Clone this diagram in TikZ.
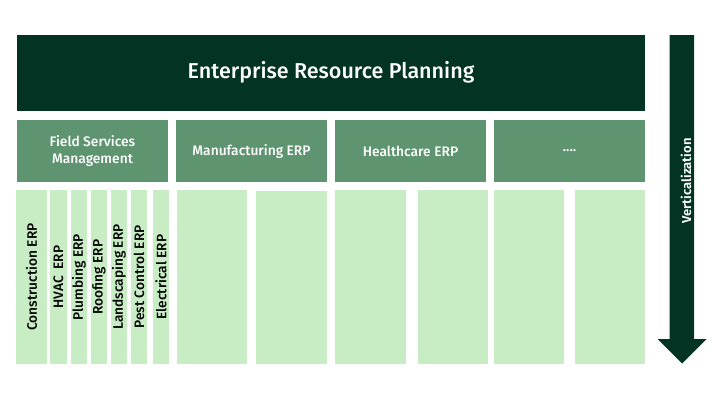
\documentclass[tikz,border=0pt]{standalone}
\usepackage{fontspec}
\setmainfont{Fira Sans}[UprightFont=* Medium, BoldFont=* SemiBold]
\usepackage{tikz}
\definecolor{erpdark}{RGB}{3,52,35}
\definecolor{erpmid}{RGB}{94,148,112}
\definecolor{erplight}{RGB}{200,236,196}
\tikzset{
    every node/.style={rectangle, inner sep=0pt, outer sep=0pt, align=center},
    base/.style={fill=erpdark, text=white, minimum width=628pt,
        minimum height=75.5pt, font=\fontsize{21.5}{24}\selectfont},
    branch/.style={fill=erpmid, text=white, minimum height=62pt,
        minimum width=#1, font=\fontsize{13.8}{17}\selectfont},
    leaf/.style={fill=erplight, rotate=90, minimum width=173.5pt,
        minimum height=#1, font=\fontsize{13.7}{16}\selectfont}
}

\begin{document}
\begin{tikzpicture}[x=1pt, y=-1pt]
	\useasboundingbox (0, 0) rectangle (720, 405);
	\node (erp) [base] at (331, 72.75) {Enterprise Resource Planning};
	
	\node (fsm) [branch=151pt] at (92.5, 151) {Field Services\\Management};
	\node (mfg) [branch=151pt] at (251.5, 151) {Manufacturing ERP};
	\node (hc) [branch=151pt] at (410.5, 151) {Healthcare ERP};
	\node (more) [branch=151pt] at (569.5, 151) {....};
	
	\node (f1) [leaf=31pt] at (31.5, 277) {Construction ERP};
	\node (f2) [leaf=17pt] at (58.5, 277) {HVAC\ \ ERP};
	\node (f3) [leaf=16pt] at (79, 277) {Plumbing ERP};
	\node (f4) [leaf=16pt] at (99, 277) {Roofing ERP};
	\node (f5) [leaf=16pt] at (119, 277) {Landscaping ERP};
	\node (f6) [leaf=16pt] at (139, 277) {Pest Control ERP};
	\node (f7) [leaf=16pt] at (161, 277) {Electrical ERP};
	\node (m1) [leaf=70pt] at (212, 277) {};
	\node (m2) [leaf=71pt] at (291.5, 277.5) {};
	\node (h1) [leaf=71pt] at (370.5, 277) {};
	\node (h2) [leaf=70pt] at (453, 277) {};
	\node (x1) [leaf=70pt] at (529, 277) {};
	\node (x2) [leaf=70pt] at (610, 277) {};
	
	\fill [erpdark] (669.5, 35) -- (694, 35) -- (694, 339) -- (706.5, 339)
		-- (682, 363.5) -- (657.5, 339) -- (669.5, 339) -- cycle;
	\node (vert) [rotate=90, text=white, font=\fontsize{13}{15}\selectfont\bfseries]
		at (686, 181) {Verticalization};
\end{tikzpicture}
\end{document}
